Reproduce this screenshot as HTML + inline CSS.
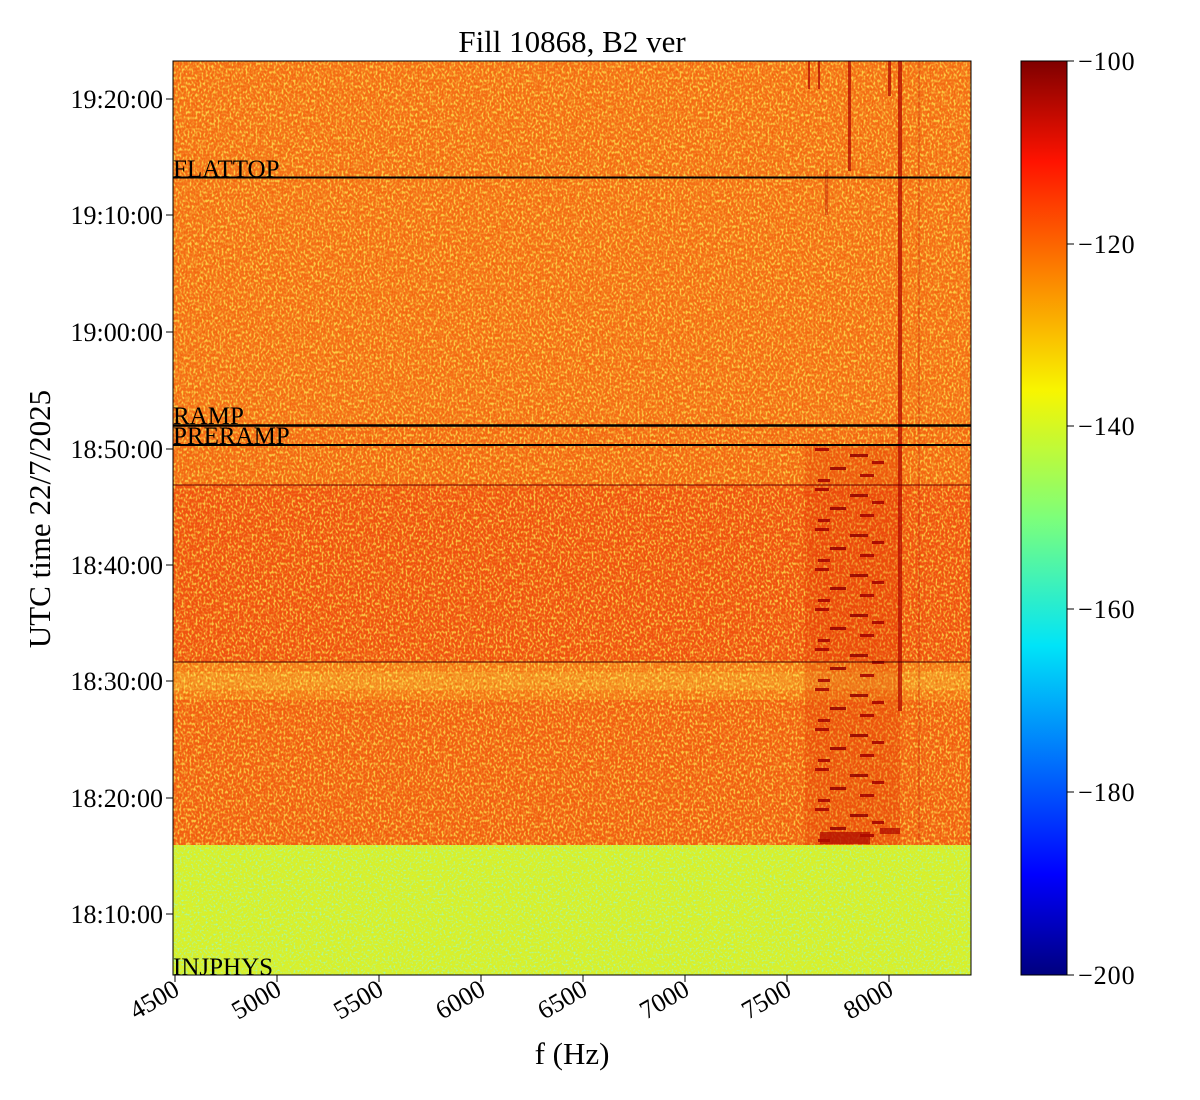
<!DOCTYPE html>
<html><head><meta charset="utf-8"><style>
body{margin:0;background:#fff;}
svg{display:block;font-family:"Liberation Serif",serif;}
</style></head><body>
<svg width="1200" height="1100" xmlns="http://www.w3.org/2000/svg">
<defs>
<filter id="nz" x="0" y="0" width="100%" height="100%">
<feTurbulence type="fractalNoise" baseFrequency="0.5 0.35" numOctaves="1" seed="3"/>
<feColorMatrix type="matrix" values="0 0 0 0 1  0 0 0 0 0.92  0 0 0 0 0.1  4 0 0 0 -1.8"/>
</filter>
<filter id="nzr" x="0" y="0" width="100%" height="100%">
<feTurbulence type="fractalNoise" baseFrequency="0.5 0.35" numOctaves="1" seed="11"/>
<feColorMatrix type="matrix" values="0 0 0 0 0.85  0 0 0 0 0.1  0 0 0 0 0  4 0 0 0 -2.0"/>
</filter>
<filter id="nz2" x="0" y="0" width="100%" height="100%">
<feTurbulence type="fractalNoise" baseFrequency="0.5" numOctaves="1" seed="7"/>
<feColorMatrix type="matrix" values="0 0 0 0 0.3  0 0 0 0 0.95  0 0 0 0 0.6  4 0 0 0 -2.0"/>
</filter>
<pattern id="dash" x="810" y="445" width="85" height="40" patternUnits="userSpaceOnUse">
<rect x="5" y="3" width="14" height="3" fill="#a00000"/>
<rect x="40" y="9" width="18" height="3" fill="#900000"/>
<rect x="62" y="16" width="12" height="3" fill="#a00000"/>
<rect x="20" y="22" width="16" height="3" fill="#900000"/>
<rect x="50" y="29" width="14" height="3" fill="#a00000"/>
<rect x="8" y="34" width="12" height="3" fill="#a00000"/>
</pattern>
<linearGradient id="jet" x1="0" y1="1" x2="0" y2="0">
<stop offset="0" stop-color="#00007f"/><stop offset="0.11" stop-color="#0000ff"/>
<stop offset="0.36" stop-color="#00e4f8"/><stop offset="0.5" stop-color="#7dff7a"/>
<stop offset="0.64" stop-color="#f8f500"/><stop offset="0.89" stop-color="#ff1300"/>
<stop offset="1" stop-color="#7f0000"/>
</linearGradient>
</defs>
<text x="572" y="52" font-size="31" text-anchor="middle">Fill 10868, B2 ver</text>
<!-- heatmap -->
<rect x="173" y="61" width="798" height="364" fill="#f57018"/>
<rect x="173" y="425" width="798" height="60" fill="#f46a16"/>
<rect x="173" y="485" width="798" height="177" fill="#f05212"/>
<rect x="173" y="662" width="798" height="38" fill="#f57a1a"/>
<rect x="173" y="672" width="798" height="18" fill="#f59024"/>
<rect x="173" y="700" width="798" height="145" fill="#f26014"/>
<rect x="173" y="61" width="798" height="784" filter="url(#nz)" opacity="0.7"/>
<rect x="173" y="61" width="798" height="784" filter="url(#nzr)" opacity="0.5"/>
<rect x="173" y="845" width="798" height="130" fill="#d8f02a"/>
<rect x="173" y="845" width="798" height="130" filter="url(#nz2)" opacity="0.7"/>
<!-- streaks -->
<rect x="805" y="445" width="95" height="400" fill="#e03000" opacity="0.25"/>
<rect x="810" y="445" width="85" height="400" fill="url(#dash)" opacity="0.85"/>
<g fill="#b00c00" opacity="0.75">
<rect x="898" y="61" width="4" height="650"/>
<rect x="848" y="61" width="3" height="110"/>
<rect x="888" y="61" width="3" height="35"/>
<rect x="808" y="61" width="2" height="28"/>
<rect x="818" y="61" width="2" height="28"/>
<rect x="918" y="61" width="2" height="780" opacity="0.3"/>
<rect x="825" y="170" width="3" height="45" opacity="0.5"/>
<rect x="820" y="832" width="50" height="12"/>
<rect x="880" y="828" width="20" height="6"/>
</g>
<g stroke="#000" fill="none">
<line x1="173" y1="177.5" x2="971" y2="177.5" stroke-width="2"/>
<line x1="173" y1="425.5" x2="971" y2="425.5" stroke-width="2.5"/>
<line x1="173" y1="445" x2="971" y2="445" stroke-width="2"/>
<line x1="173" y1="485" x2="971" y2="485" stroke-width="1" stroke="#600"/>
<line x1="173" y1="662" x2="971" y2="662" stroke-width="1" stroke="#400"/>
<rect x="173" y="61" width="798" height="914" stroke-width="1"/>
</g>
<g font-size="25">
<text x="173" y="177">FLATTOP</text>
<text x="173" y="424">RAMP</text>
<text x="173" y="444">PRERAMP</text>
<text x="173" y="975">INJPHYS</text>
</g>
<!-- y ticks -->
<g font-size="26" text-anchor="end">
<g stroke="#000"><line x1="166" x2="173" y1="99" y2="99"/><line x1="166" x2="173" y1="215" y2="215"/><line x1="166" x2="173" y1="332" y2="332"/><line x1="166" x2="173" y1="449" y2="449"/><line x1="166" x2="173" y1="565" y2="565"/><line x1="166" x2="173" y1="681" y2="681"/><line x1="166" x2="173" y1="798" y2="798"/><line x1="166" x2="173" y1="914" y2="914"/></g>
<text x="163" y="108">19:20:00</text><text x="163" y="224">19:10:00</text><text x="163" y="341">19:00:00</text><text x="163" y="458">18:50:00</text><text x="163" y="574">18:40:00</text><text x="163" y="690">18:30:00</text><text x="163" y="807">18:20:00</text><text x="163" y="923">18:10:00</text>
</g>
<text transform="translate(50,519) rotate(-90)" font-size="31" text-anchor="middle">UTC time 22/7/2025</text>
<!-- x ticks -->
<g stroke="#000"><line x1="175" x2="175" y1="975" y2="982"/><line x1="277" x2="277" y1="975" y2="982"/><line x1="379" x2="379" y1="975" y2="982"/><line x1="481" x2="481" y1="975" y2="982"/><line x1="583" x2="583" y1="975" y2="982"/><line x1="685" x2="685" y1="975" y2="982"/><line x1="787" x2="787" y1="975" y2="982"/><line x1="889" x2="889" y1="975" y2="982"/></g>
<g font-size="26" text-anchor="end">
<text transform="translate(181,994) rotate(-30)">4500</text>
<text transform="translate(283,994) rotate(-30)">5000</text>
<text transform="translate(385,994) rotate(-30)">5500</text>
<text transform="translate(487,994) rotate(-30)">6000</text>
<text transform="translate(589,994) rotate(-30)">6500</text>
<text transform="translate(691,994) rotate(-30)">7000</text>
<text transform="translate(793,994) rotate(-30)">7500</text>
<text transform="translate(895,994) rotate(-30)">8000</text>
</g>
<text x="572" y="1064" font-size="31" text-anchor="middle">f (Hz)</text>
<!-- colorbar -->
<rect x="1021" y="61" width="46" height="914" fill="url(#jet)" stroke="#000"/>
<g stroke="#000"><line x1="1067" x2="1074" y1="61" y2="61"/><line x1="1067" x2="1074" y1="244" y2="244"/><line x1="1067" x2="1074" y1="426" y2="426"/><line x1="1067" x2="1074" y1="609" y2="609"/><line x1="1067" x2="1074" y1="792" y2="792"/><line x1="1067" x2="1074" y1="975" y2="975"/></g>
<g font-size="26" letter-spacing="1">
<text x="1078" y="70">−100</text><text x="1078" y="253">−120</text><text x="1078" y="435">−140</text><text x="1078" y="618">−160</text><text x="1078" y="801">−180</text><text x="1078" y="984">−200</text>
</g>
</svg>
</body></html>
